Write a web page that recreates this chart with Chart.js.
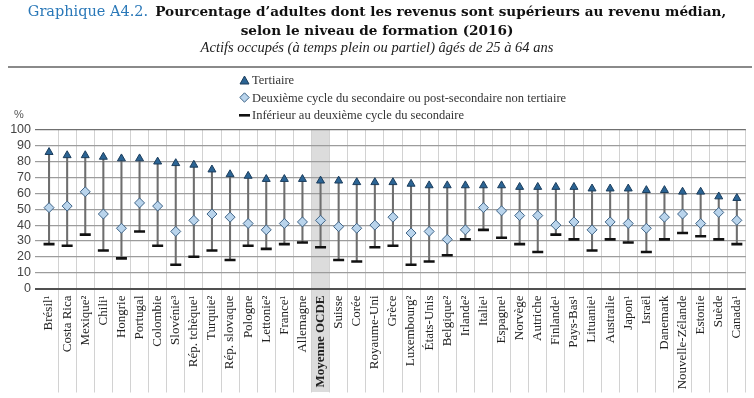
<!DOCTYPE html>
<html>
<head>
<meta charset="utf-8">
<script src="https://cdn.jsdelivr.net/npm/chart.js@4"></script>
<style>
  html, body { margin: 0; padding: 0; background: #fff; }
  #wrap { position: relative; width: 754px; height: 398px; overflow: hidden; }
  #wrap canvas { position: absolute; left: 0; top: 0; }
  .t { position: absolute; left: 0; width: 754px; text-align: center; white-space: nowrap; color: #111; }
  #t1 { top: 3px; font: bold 13.6px "DejaVu Serif", serif; }
  #t1 .blue { color: #2a78b8; font-weight: normal; font-size: 14.5px; margin-right: 7px; }
  #t2 { top: 22px; font: bold 13.6px "DejaVu Serif", serif; }
  #t3 { top: 39px; font: italic 14.5px "Liberation Serif", serif; color: #222; }
  #rule { position: absolute; left: 8px; top: 66px; width: 744px; height: 2px; background: #8a8a8a; }
  .leg { position: absolute; left: 239px; font: 12.5px "Liberation Serif", serif; color: #333; white-space: nowrap; }
  .leg svg { vertical-align: -1px; margin-right: 2px; }
  #pct { position: absolute; left: 14px; top: 108px; font: 11px "Liberation Sans", sans-serif; color: #555; }
</style>
</head>
<body>
<div id="wrap">
  <canvas id="chart" width="754" height="398"></canvas>
  <div class="t" id="t1"><span class="blue">Graphique A4.2.</span>Pourcentage d’adultes dont les revenus sont supérieurs au revenu médian,</div>
  <div class="t" id="t2">selon le niveau de formation (2016)</div>
  <div class="t" id="t3">Actifs occupés (à temps plein ou partiel) âgés de 25 à 64 ans</div>
  <div id="rule"></div>
  <div class="leg" style="top:73px"><svg width="11" height="10"><polygon points="5.5,1 10,9 1,9" fill="#2b6494" stroke="#1c3d5c" stroke-width="1"/></svg>Tertiaire</div>
  <div class="leg" style="top:91px"><svg width="11" height="11"><polygon points="5.5,0.8 10.2,5.5 5.5,10.2 0.8,5.5" fill="#b9d4ec" stroke="#3e6386" stroke-width="1"/></svg>Deuxième cycle du secondaire ou post-secondaire non tertiaire</div>
  <div class="leg" style="top:108px"><svg width="11" height="10"><rect x="0" y="4" width="11" height="2.6" fill="#111"/></svg>Inférieur au deuxième cycle du secondaire</div>
  <div id="pct">%</div>
</div>
<script>
// categories (countries) in display order
const countries = [
  "Brésil¹", "Costa Rica", "Mexique²", "Chili¹", "Hongrie", "Portugal", "Colombie",
  "Slovénie³", "Rép. tchèque¹", "Turquie²", "Rép. slovaque", "Pologne", "Lettonie²",
  "France¹", "Allemagne", "Moyenne OCDE", "Suisse", "Corée", "Royaume-Uni", "Grèce",
  "Luxembourg²", "États-Unis", "Belgique²", "Irlande²", "Italie¹", "Espagne¹", "Norvège",
  "Autriche", "Finlande¹", "Pays-Bas¹", "Lituanie¹", "Australie", "Japon¹", "Israël",
  "Danemark", "Nouvelle-Zélande", "Estonie", "Suède", "Canada¹"
];

// Tertiaire
const tertiary = [
  86, 84, 84, 83, 82, 82, 80, 79, 78, 75, 72, 71, 69,
  69, 69, 68, 68, 67, 67, 67, 66, 65, 65, 65, 65, 65,
  64, 64, 64, 64, 63, 63, 63, 62, 62, 61, 61, 58, 57
];

// Deuxième cycle du secondaire ou post-secondaire non tertiaire
const upperSecondary = [
  51, 52, 61, 47, 38, 54, 52, 36, 43, 47, 45, 41, 37,
  41, 42, 43, 39, 38, 40, 45, 35, 36, 31, 37, 51, 49,
  46, 46, 40, 42, 37, 42, 41, 38, 45, 47, 41, 48, 43
];

// Inférieur au deuxième cycle du secondaire
const belowSecondary = [
  28, 27, 34, 24, 19, 36, 27, 15, 20, 24, 18, 27, 25,
  28, 29, 26, 18, 17, 26, 27, 15, 17, 21, 31, 37, 32,
  28, 23, 34, 31, 24, 31, 29, 23, 31, 35, 33, 31, 28
];

const oecdLabel = "Moyenne OCDE";

// shaded column behind the OECD average
const oecdBand = {
  id: "oecdBand",
  beforeDraw(chart) {
    const x = chart.scales.x;
    const i = countries.indexOf(oecdLabel);
    const w = x.width / countries.length;
    const cx = x.getPixelForValue(i);
    const c = chart.ctx;
    c.save();
    c.fillStyle = "#dcdcdc";
    c.fillRect(cx - w / 2, chart.chartArea.top, w, 392 - chart.chartArea.top);
    c.restore();
  }
};

new Chart(document.getElementById("chart"), {
  type: "bar",
  data: {
    labels: countries,
    datasets: [
      {
        type: "line",
        label: "Tertiaire",
        data: tertiary,
        showLine: false,
        pointStyle: "triangle",
        pointRadius: 4.6,
        pointBackgroundColor: "#2b6494",
        pointBorderColor: "#1c3d5c",
        pointBorderWidth: 1,
        order: 1
      },
      {
        type: "line",
        label: "Deuxième cycle du secondaire ou post-secondaire non tertiaire",
        data: upperSecondary,
        showLine: false,
        pointStyle: "rectRot",
        pointRadius: 5,
        pointBackgroundColor: "#b9d4ec",
        pointBorderColor: "#3e6386",
        pointBorderWidth: 1,
        order: 2
      },
      {
        type: "line",
        label: "Inférieur au deuxième cycle du secondaire",
        data: belowSecondary,
        showLine: false,
        pointStyle: "line",
        pointRadius: 5.5,
        pointBorderColor: "#111",
        pointBorderWidth: 2.6,
        order: 3
      },
      {
        label: "stem",
        data: countries.map((c, i) => [belowSecondary[i], tertiary[i]]),
        backgroundColor: "#6e6e6e",
        barThickness: 1.4,
        order: 4
      }
    ]
  },
  plugins: [oecdBand],
  options: {
    responsive: false,
    animation: false,
    layout: { padding: { top: 130, left: 0, right: 6, bottom: 0 } },
    plugins: {
      legend: { display: false },
      tooltip: { enabled: false }
    },
    scales: {
      x: {
        afterFit: s => { s.height = 109.5; },
        border: { display: false },
        grid: {
          offset: true,
          tickLength: 104,
          lineWidth: 1,
          color: ctx => ctx.index === 0 ? "rgba(0,0,0,0)" : "#d2d2d2"
        },
        ticks: {
          autoSkip: false,
          minRotation: 90,
          maxRotation: 90,
          padding: -97,
          color: "#222",
          font: ctx => ({
            family: "Liberation Serif",
            size: 13,
            weight: countries[ctx.index] === oecdLabel ? "bold" : "normal"
          })
        }
      },
      y: {
        min: 0,
        max: 100,
        afterFit: s => { s.width = 40; },
        border: { display: false },
        grid: {
          tickLength: 5,
          color: ctx => ctx.tick.value === 0 ? "#505050" : (ctx.tick.value === 100 ? "#707070" : "#9c9c9c"),
          lineWidth: ctx => ctx.tick.value === 0 ? 2 : 1.2
        },
        ticks: {
          stepSize: 10,
          autoSkip: false,
          padding: 4,
          color: "#444",
          font: { family: "Liberation Sans", size: 12.5 }
        }
      }
    }
  }
});
</script>
</body>
</html>
